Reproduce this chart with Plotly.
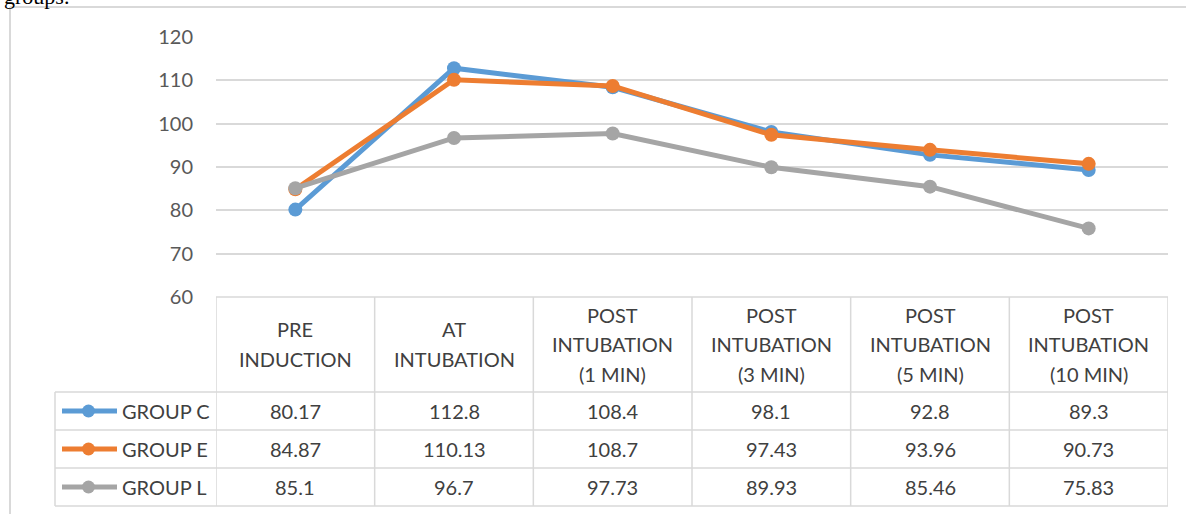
import plotly.graph_objects as go

# ── Data ──────────────────────────────────────────────────────────────────────
categories = [
    ["PRE", "INDUCTION"],
    ["AT", "INTUBATION"],
    ["POST", "INTUBATION", "(1 MIN)"],
    ["POST", "INTUBATION", "(3 MIN)"],
    ["POST", "INTUBATION", "(5 MIN)"],
    ["POST", "INTUBATION", "(10 MIN)"],
]
group_c = [80.17, 112.8, 108.4, 98.1, 92.8, 89.3]
group_e = [84.87, 110.13, 108.7, 97.43, 93.96, 90.73]
group_l = [85.1, 96.7, 97.73, 89.93, 85.46, 75.83]
y_ticks = [60, 70, 80, 90, 100, 110, 120]

series = [
    ("GROUP C", group_c, "#5b9bd5"),
    ("GROUP E", group_e, "#ed7d31"),
    ("GROUP L", group_l, "#a5a5a5"),
]

# ── Pixel layout (screen pixels of the target picture) ────────────────────────
W, H = 1186, 514
PLOT_L, PLOT_R, PLOT_T, PLOT_B = 216, 1168, 37, 297
TABLE_L = 55
ROW_TOPS = [392, 430, 468, 506]
HEADER_MID = 344
LINE_GAP = 29.5
BORDER = "#d9d9d9"
TEXT = "#404040"
FONT = "Lato"


def px(x):
    return x / W


def py(y):
    return 1 - y / H


fig = go.Figure()
xs = list(range(len(categories)))

for name, vals, colour in series:
    fig.add_trace(go.Scatter(
        x=xs, y=vals, name=name, mode="lines+markers",
        line=dict(color=colour, width=5),
        marker=dict(color=colour, size=14),
        showlegend=False, cliponaxis=False,
    ))

shapes = []
annotations = []


def hline(y, x0, x1, color=BORDER, width=1.5):
    shapes.append(dict(type="line", xref="paper", yref="paper",
                       x0=px(x0), x1=px(x1), y0=py(y), y1=py(y),
                       line=dict(color=color, width=width)))


def vline_paper(x, y0, y1, color=BORDER, width=1.5):
    shapes.append(dict(type="line", xref="paper", yref="paper",
                       x0=px(x), x1=px(x), y0=py(y0), y1=py(y1),
                       line=dict(color=color, width=width)))


# ── Document frame (page crop: caption tail + chart border) ───────────────────
vline_paper(10, 7, H, width=2)
hline(7, 10, W, width=2)
annotations.append(dict(text="groups.", xref="paper", yref="paper",
                        x=px(3), y=py(10), xanchor="left", yanchor="bottom",
                        showarrow=False, borderpad=0,
                        font=dict(family="Liberation Serif", size=22, color="#000000")))

# ── Data table ────────────────────────────────────────────────────────────────
hline(PLOT_B, PLOT_L, PLOT_R)
for y in ROW_TOPS:
    hline(y, TABLE_L, PLOT_R)
vline_paper(TABLE_L, ROW_TOPS[0], ROW_TOPS[-1])
for k in range(len(categories) + 1):
    shapes.append(dict(type="line", xref="x", yref="paper",
                       x0=k - 0.5, x1=k - 0.5, y0=py(PLOT_B), y1=py(ROW_TOPS[-1]),
                       line=dict(color=BORDER, width=1.5)))

# header labels (one annotation per line to mimic Excel line spacing)
for i, lines in enumerate(categories):
    n = len(lines)
    for j, line in enumerate(lines):
        yy = HEADER_MID + (j - (n - 1) / 2) * LINE_GAP
        annotations.append(dict(text=line, xref="x", yref="paper",
                                x=i, y=py(yy), yanchor="middle",
                                showarrow=False,
                                font=dict(family=FONT, size=20, color=TEXT)))

# data rows + legend keys
for r, (name, vals, colour) in enumerate(series):
    ymid = (ROW_TOPS[r] + ROW_TOPS[r + 1]) / 2
    for i, v in enumerate(vals):
        annotations.append(dict(text=f"{v:g}", xref="x", yref="paper",
                                x=i, y=py(ymid), yanchor="middle",
                                showarrow=False,
                                font=dict(family=FONT, size=20, color=TEXT)))
    shapes.append(dict(type="line", xref="paper", yref="paper",
                       x0=px(62), x1=px(117), y0=py(ymid), y1=py(ymid),
                       line=dict(color=colour, width=5)))
    shapes.append(dict(type="circle", xref="paper", yref="paper",
                       x0=px(82), x1=px(95), y0=py(ymid + 6.5), y1=py(ymid - 6.5),
                       line=dict(color=colour, width=0), fillcolor=colour))
    annotations.append(dict(text=name, xref="paper", yref="paper",
                            x=px(120), y=py(ymid), xanchor="left", yanchor="middle",
                            showarrow=False,
                            font=dict(family=FONT, size=20, color=TEXT)))

# ── Layout ────────────────────────────────────────────────────────────────────
fig.update_layout(
    width=W, height=H,
    margin=dict(l=0, r=0, t=0, b=0, pad=0, autoexpand=False),
    paper_bgcolor="white", plot_bgcolor="white",
    showlegend=False,
    shapes=shapes,
    annotations=annotations,
    xaxis=dict(domain=[px(PLOT_L), px(PLOT_R)], range=[-0.5, len(categories) - 0.5],
               automargin=False,
               showgrid=False, zeroline=False, showticklabels=False, showline=False),
    yaxis=dict(domain=[py(PLOT_B), py(PLOT_T)], range=[60, 120],
               automargin=False,
               tickvals=y_ticks, showgrid=True, gridcolor=BORDER, gridwidth=1.5,
               zeroline=False, showline=False, ticks="",
               ticklabelstandoff=22,
               tickfont=dict(family=FONT, size=20, color="#595959")),
)

# the page is a crop of a document, so drop the browser's default body margin
fig.write_html("out.html", config={"displayModeBar": False},
               post_script="document.body.style.margin = '0';")
